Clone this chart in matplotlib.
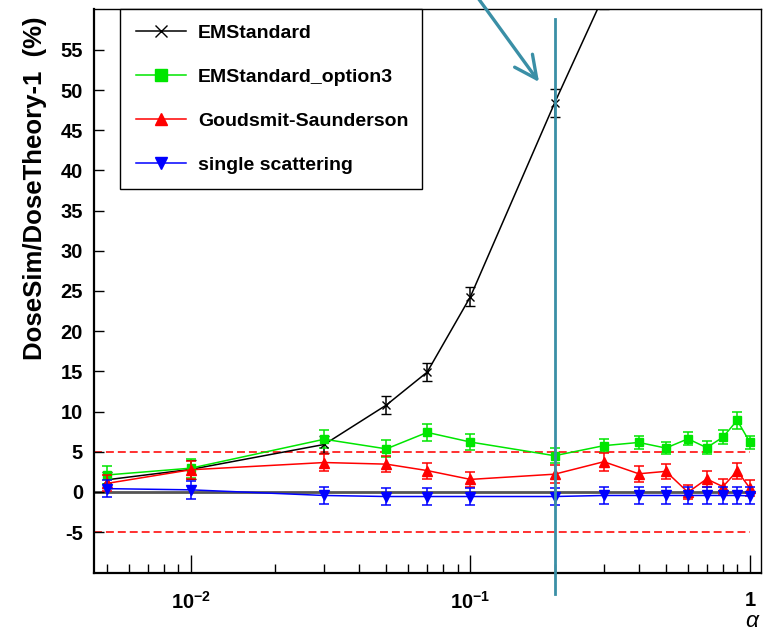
import numpy as np
import matplotlib
matplotlib.use("Agg")
import matplotlib.pyplot as plt
from matplotlib.lines import Line2D
from matplotlib.ticker import FixedLocator, NullFormatter

# ---------------- data ----------------
alpha = [0.005, 0.01, 0.03, 0.05, 0.07, 0.1, 0.2, 0.3, 0.4, 0.5, 0.6, 0.7, 0.8, 0.9, 1.0]

em_x = [0.005, 0.01, 0.03, 0.05, 0.07, 0.1, 0.2, 0.3]
em_y = [1.5, 2.8, 5.9, 10.8, 14.9, 24.3, 48.4, 61.8]
em_e = [1.0, 1.2, 1.1, 1.1, 1.1, 1.2, 1.7, 1.7]

opt3_y = [2.1, 2.95, 6.55, 5.35, 7.4, 6.2, 4.5, 5.75, 6.15, 5.45, 6.6, 5.5, 6.8, 8.9, 6.15]
opt3_e = [1.1, 1.2, 1.15, 1.05, 1.1, 1.05, 0.95, 0.85, 0.85, 0.75, 0.8, 0.85, 0.85, 1.1, 0.85]

gs_y = [1.05, 2.75, 3.65, 3.45, 2.65, 1.55, 2.2, 3.75, 2.25, 2.55, -0.05, 1.6, 0.65, 2.6, 0.45]
gs_e = [1.0, 1.1, 1.05, 1.0, 1.0, 0.95, 1.1, 1.1, 1.0, 0.95, 0.9, 1.05, 0.95, 1.0, 1.0]

ss_y = [0.4, 0.25, -0.45, -0.58, -0.58, -0.58, -0.58, -0.45, -0.45, -0.45, -0.45, -0.45, -0.45, -0.45, -0.5]
ss_e = [1.1, 1.1, 1.05, 1.05, 1.05, 1.05, 1.05, 1.05, 1.05, 1.05, 1.05, 1.05, 1.05, 1.05, 1.05]

labels = ["EMStandard", "EMStandard_option3", "Goudsmit-Saunderson", "single scattering"]
ytick_vals = list(range(-5, 56, 5))
limit_band = [-5, 5]
marked_alpha = 0.2

# ---------------- fonts ----------------
plt.rcParams["font.family"] = ["Liberation Sans", "DejaVu Sans"]
plt.rcParams["font.weight"] = "bold"
plt.rcParams["mathtext.fontset"] = "custom"
plt.rcParams["mathtext.rm"] = "Liberation Sans:bold"
plt.rcParams["mathtext.bf"] = "Liberation Sans:bold"
plt.rcParams["mathtext.it"] = "Liberation Sans:italic"

FS = 14
W, H = 763, 632
fig = plt.figure(figsize=(W / 100, H / 100), dpi=100)
ax = fig.add_axes([94 / W, 1 - 573 / H, (761 - 94) / W, (573 - 9) / H])

ax.set_xscale("log")
ax.set_xlim(0.0045, 1.095)
ax.set_ylim(-10.1, 60.1)

# reference lines
ax.hlines(0, 0.0045, 1.0, color="#555555", lw=2.0, zorder=1)
for yv in limit_band:
    ax.hlines(yv, 0.0045, 1.0, color="#ff2020", lw=1.3, linestyles=(0, (4.4, 2.2)), zorder=1)

common = dict(lw=1.1, capsize=3.3, elinewidth=1.1, capthick=1.1)
styles = [
    dict(color="black", marker="x", ms=6, mew=1.0),
    dict(color="#00e600", marker="s", ms=6),
    dict(color="#ff0000", marker="^", ms=6.5),
    dict(color="#0000ff", marker="v", ms=6.5),
]
ax.errorbar(em_x, em_y, yerr=em_e, zorder=3, **styles[0], **common)
ax.errorbar(alpha, opt3_y, yerr=opt3_e, zorder=3, **styles[1], **common)
ax.errorbar(alpha, gs_y, yerr=gs_e, zorder=4, **styles[2], **common)
ax.errorbar(alpha, ss_y, yerr=ss_e, zorder=5, **styles[3], **common)

# ticks
ax.set_yticks(ytick_vals)
ax.set_yticklabels([str(v) for v in ytick_vals])
ax.xaxis.set_major_locator(FixedLocator([0.01, 0.1, 1.0]))
ax.set_xticklabels([r"$\mathbf{10^{-2}}$", r"$\mathbf{10^{-1}}$", r"$\mathbf{1}$"])
minors = [m * 10.0 ** e for e in (-3, -2, -1) for m in range(2, 10)]
minors = [v for v in minors if 0.0045 <= v <= 1.0]
ax.xaxis.set_minor_locator(FixedLocator(minors))
ax.xaxis.set_minor_formatter(NullFormatter())
ax.tick_params(axis="both", which="both", direction="in", labelsize=14.5, color="black")
ax.tick_params(axis="x", which="major", length=13, width=1.0, pad=13)
ax.tick_params(axis="x", which="minor", length=6.5, width=1.0)
ax.tick_params(axis="y", which="major", length=7.5, width=1.0, pad=8)
ax.tick_params(axis="y", which="minor", left=False)
for lab in ax.get_yticklabels() + ax.get_xticklabels():
    lab.set_fontweight("bold")

for s in ("left", "bottom"):
    ax.spines[s].set_linewidth(1.6)
for s in ("top", "right"):
    ax.spines[s].set_linewidth(1.0)

ax.set_ylabel("DoseSim/DoseTheory-1  (%)", fontsize=18.5, fontweight="bold")
ax.yaxis.set_label_coords((47 - 94) / 667, 1 - (188 - 9) / 564)
fig.text(752 / W, 1 - 627 / H, "α", fontsize=16.5, style="italic", fontweight="normal",
         ha="center", va="baseline")

# legend (line + marker proxies, no error bars)
handles = [Line2D([], [], lw=1.1, **st) for st in styles]
leg = ax.legend(handles=handles, labels=labels,
                bbox_to_anchor=((120 - 94) / 667, (573 - 185) / 564, (422 - 120) / 667, (185 - 9) / 564),
                loc="upper left", mode="expand", fontsize=FS, frameon=True, fancybox=False,
                edgecolor="black", framealpha=1, borderpad=0.8, labelspacing=1.35,
                handlelength=2.6, handletextpad=0.6, borderaxespad=0.0, markerscale=1.35)
leg.get_frame().set_linewidth(1.0)
for t in leg.get_texts():
    t.set_fontweight("bold")

# annotation: vertical marker line and arrow
teal = "#3a8fa6"
ax.axvline(marked_alpha, ymin=-21 / 564, ymax=(573 - 19) / 564, color=teal, lw=2.0, clip_on=False, zorder=6)
ax.annotate("", xy=(539 / W, 1 - 82 / H), xycoords="figure fraction",
            xytext=(478 / W, 1 + 2 / H), textcoords="figure fraction",
            arrowprops=dict(arrowstyle="->,head_length=0.45,head_width=0.22", color=teal, lw=2.4,
                            mutation_scale=36, shrinkA=0, shrinkB=0), annotation_clip=False)

fig.savefig("out.png", dpi=100)
